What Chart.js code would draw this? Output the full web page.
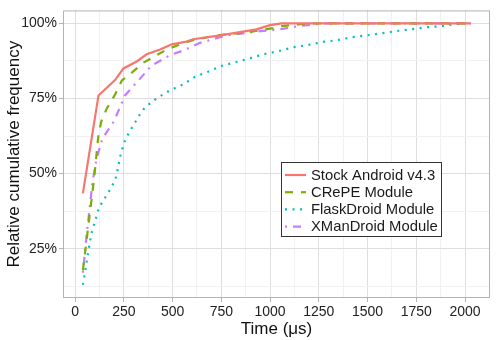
<!DOCTYPE html>
<html>
<head>
<meta charset="utf-8">
<script src="https://cdn.jsdelivr.net/npm/chart.js@4"></script>
<style>
	html, body { margin: 0; padding: 0; background: #fff; }
	#wrap { width: 498px; height: 340px; }
</style>
</head>
<body>
<div id="wrap"><canvas id="chart" width="498" height="340"></canvas></div>
<script>
// values (time in µs, cumulative frequency in %)
var stockTime = [40, 120, 205, 248, 316, 367, 436, 496, 564, 605, 745, 930, 1000, 1060, 2030];
var stockFreq = [43.4, 76, 81.1, 85, 87.3, 89.7, 91.3, 93, 93.8, 94.7, 96, 98, 99.4, 100, 100];

var crepeTime = [40, 97, 120, 135, 162, 205, 240, 291, 350, 410, 470, 547, 605, 728, 882, 1015, 1051, 1154, 1220, 2030];
var crepeFreq = [17.8, 48, 63, 67.5, 71.6, 76.3, 81, 83.6, 86.9, 89.1, 91.3, 93.2, 94.4, 96, 97, 98.4, 99, 99.7, 100, 100];

var flaskTime = [40, 82, 123, 168, 205, 214, 236, 260, 299, 338, 360, 420, 484, 552, 615, 682, 754, 831, 903, 974, 1046, 1123, 1195, 1272, 1344, 1421, 1497, 1574, 1646, 1723, 1800, 1872, 1949, 1990, 2030];
var flaskFreq = [13, 29.6, 38.8, 43.4, 47.7, 50, 57.1, 61.7, 66.1, 70.3, 72.1, 75.1, 77.6, 79.6, 82.2, 83.9, 85.9, 87.2, 88.5, 89.8, 90.8, 92.1, 92.8, 93.8, 94.4, 95.4, 96, 96.7, 97.4, 98, 98.7, 99, 99.7, 100, 100];

var xmanTime = [40, 60, 89, 110, 140, 200, 256, 325, 393, 487, 547, 641, 779, 949, 1051, 1138, 1231, 1280, 2030];
var xmanFreq = [17, 30, 47, 55, 61.6, 67.5, 76, 81, 86, 89.4, 90.8, 93.5, 96, 97.4, 98, 99, 99.7, 100, 100];

var seriesNames = ["Stock Android v4.3", "CRePE Module", "FlaskDroid Module", "XManDroid Module"];
var xTicks = [0, 250, 500, 750, 1000, 1250, 1500, 1750, 2000];
var yTicks = [25, 50, 75, 100];

function punti(tempi, freq) {
	var out = [];
	for (var i = 0; i < tempi.length; i++) out.push({ x: tempi[i], y: freq[i] });
	return out;
}

function serie(nome, tempi, freq, colore, dash) {
	return {
		label: nome,
		data: punti(tempi, freq),
		borderColor: colore,
		backgroundColor: colore,
		borderWidth: 2.2,
		borderDash: dash,
		pointRadius: 0,
		tension: 0,
		fill: false,
	};
}

// ticks ogni 125: quelli a metà sono griglia minore, senza etichetta
function conMinori(major) {
	var out = [];
	var step = major[1] - major[0];
	for (var i = 0; i < major.length; i++) {
		out.push({ value: major[i] });
		out.push({ value: major[i] + step / 2, minor: true });
	}
	if (major[0] - step / 2 > 0) out.unshift({ value: major[0] - step / 2, minor: true });
	return out;
}

var FONT = "'Liberation Sans', Arial, sans-serif";

var pannello = {
	id: "pannello",
	afterDatasetsDraw: function (chart) {
		var a = chart.chartArea;
		var ctx = chart.ctx;
		ctx.save();
		ctx.strokeStyle = "#b3b3b3";
		ctx.lineWidth = 1;
		ctx.strokeRect(a.left + 0.5, a.top + 0.5, a.right - a.left - 1, a.bottom - a.top - 1);
		ctx.restore();
	},
	afterDraw: function (chart) {
		// legenda dentro il pannello, come in ggplot
		var ctx = chart.ctx;
		var x0 = 281, y0 = 162, w = 160, h = 74;
		ctx.save();
		ctx.fillStyle = "#fff";
		ctx.fillRect(x0, y0, w, h);
		ctx.strokeStyle = "#333";
		ctx.lineWidth = 1;
		ctx.strokeRect(x0 + 0.5, y0 + 0.5, w, h);
		ctx.font = "14.8px " + FONT;
		ctx.textBaseline = "middle";
		chart.data.datasets.forEach(function (ds, i) {
			var y = 175 + i * 17.2;
			ctx.strokeStyle = ds.borderColor;
			ctx.lineWidth = 2.2;
			ctx.setLineDash(ds.borderDash || []);
			ctx.beginPath();
			ctx.moveTo(285, y);
			ctx.lineTo(306, y);
			ctx.stroke();
			ctx.setLineDash([]);
			ctx.fillStyle = "#1a1a1a";
			ctx.fillText(ds.label, 311, y + 0.5);
		});
		ctx.restore();
	},
};

new Chart(document.getElementById("chart"), {
	type: "line",
	data: {
		datasets: [
			serie(seriesNames[0], stockTime, stockFreq, "#F8766D", []),
			serie(seriesNames[1], crepeTime, crepeFreq, "#7CAE00", [8, 8]),
			serie(seriesNames[2], flaskTime, flaskFreq, "#00BFC4", [2, 5.5]),
			serie(seriesNames[3], xmanTime, xmanFreq, "#C77CFF", [2, 6, 8, 6]),
		],
	},
	options: {
		responsive: false,
		animation: false,
		layout: { padding: { top: 8, right: 8, left: 0, bottom: 0 } },
		plugins: { legend: { display: false }, tooltip: { enabled: false } },
		scales: {
			x: {
				type: "linear",
				min: -62,
				max: 2128,
				afterBuildTicks: function (s) { s.ticks = conMinori(xTicks); },
				afterFit: function (s) { s.height = 42; },
				border: { display: false },
				grid: {
					color: function (c) { return c.tick && c.tick.minor ? "#f1f1f1" : "#dedede"; },
					tickColor: function (c) { return c.tick && c.tick.minor ? "rgba(0,0,0,0)" : "#b3b3b3"; },
					tickLength: 4,
					lineWidth: 1,
				},
				ticks: {
					autoSkip: false,
					maxRotation: 0,
					padding: 2,
					color: "#222",
					font: { family: FONT, size: 14 },
					callback: function (v) { return xTicks.indexOf(v) >= 0 ? String(v) : ""; },
				},
				title: {
					display: true,
					text: "Time (\u03bcs)",
					color: "#111",
					font: { family: FONT, size: 17 },
					padding: { top: 0, bottom: 0 },
				},
			},
			y: {
				type: "linear",
				min: 8.6,
				max: 104.3,
				afterBuildTicks: function (s) { s.ticks = conMinori(yTicks); },
				afterFit: function (s) { s.width = 63; },
				border: { display: false },
				grid: {
					color: function (c) { return c.tick && c.tick.minor ? "#f1f1f1" : "#dedede"; },
					tickColor: function (c) { return c.tick && c.tick.minor ? "rgba(0,0,0,0)" : "#b3b3b3"; },
					tickLength: 4,
					lineWidth: 1,
				},
				ticks: {
					autoSkip: false,
					padding: 2,
					color: "#222",
					font: { family: FONT, size: 14 },
					callback: function (v) { return yTicks.indexOf(v) >= 0 ? v + "%" : ""; },
				},
				title: {
					display: true,
					text: "Relative cumulative frequency",
					color: "#111",
					font: { family: FONT, size: 17 },
					padding: { top: 4, bottom: 0 },
				},
			},
		},
	},
	plugins: [pannello],
});
</script>
</body>
</html>
